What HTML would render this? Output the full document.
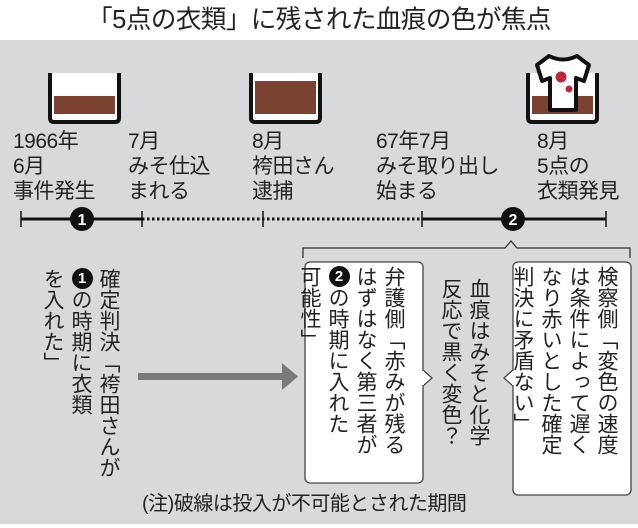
<!DOCTYPE html>
<html><head><meta charset="utf-8"><style>
*{margin:0;padding:0;box-sizing:border-box}
body{width:638px;height:528px;background:#fff;position:relative;overflow:hidden;font-family:"Liberation Sans","Noto Sans CJK JP",sans-serif;color:#222}
.a{position:absolute}
.v{position:absolute;writing-mode:vertical-rl;font-family:"Noto Sans CJK JP",sans-serif;font-size:21px;line-height:28px;white-space:nowrap}
.lbl{position:absolute;font-size:21px;line-height:25px;white-space:nowrap;letter-spacing:-0.5px}
.c{display:inline-block;width:21px;height:21px;border-radius:50%;background:#111;color:#fff;font-family:"Liberation Sans",sans-serif;font-size:15px;line-height:21px;text-align:center;font-weight:bold}
</style></head><body>
<div class="a" style="left:0;top:0;width:638px;height:40px;text-align:center;font-size:25.5px;line-height:40px;letter-spacing:-0.5px">「5点の衣類」に残された血痕の色が焦点</div>
<div class="a" style="left:0;top:40px;width:638px;height:484px;background:#d8d9db"></div>
<svg class="a" style="left:0;top:0" width="638" height="528">
<path d="M50 73 V118 Q50 122 54 122 H115 Q119 122 119 118 V73" fill="#fff" stroke="#111" stroke-width="4"/>
<rect x="54" y="96" width="61" height="18" fill="#7b4232"/>
<path d="M251 73 V118 Q251 122 255 122 H316 Q320 122 320 118 V73" fill="#fff" stroke="#111" stroke-width="4"/>
<rect x="255" y="81" width="61" height="33" fill="#7b4232"/>
<path d="M528 73 V118 Q528 122 532 122 H593 Q597 122 597 118 V73" fill="#fff" stroke="#111" stroke-width="4"/>
<rect x="532" y="96" width="61" height="18" fill="#7b4232"/>
<path d="M549 56 L537 65 L542 81 L550 78 L550 110 H576 V78 L584 81 L589 65 L577 56 Q563 63 549 56 Z" fill="#fff" stroke="#111" stroke-width="4" stroke-linejoin="round"/>
<circle cx="561" cy="77" r="5.5" fill="#c0263a"/><circle cx="569" cy="89" r="3.5" fill="#c0263a"/>
<line x1="21" y1="219" x2="142" y2="219" stroke="#111" stroke-width="3"/>
<line x1="142" y1="219" x2="422" y2="219" stroke="#111" stroke-width="3" stroke-dasharray="2.5 2.5"/>
<line x1="422" y1="219" x2="606" y2="219" stroke="#111" stroke-width="3"/>
<g stroke="#111" stroke-width="1.5"><line x1="21" y1="211" x2="21" y2="227"/><line x1="142" y1="211" x2="142" y2="227"/><line x1="263" y1="211" x2="263" y2="227"/><line x1="422" y1="211" x2="422" y2="227"/><line x1="606" y1="211" x2="606" y2="227"/></g>
<circle cx="82" cy="219" r="12" fill="#111"/><text x="82" y="225" font-size="16" font-weight="bold" fill="#fff" text-anchor="middle" font-family="Liberation Sans">1</text>
<circle cx="513" cy="219" r="12" fill="#111"/><text x="513" y="225" font-size="16" font-weight="bold" fill="#fff" text-anchor="middle" font-family="Liberation Sans">2</text>
<path d="M303 258 V248 H505 L511 241 L517 248 H630 V258" fill="none" stroke="#333" stroke-width="1.3"/>
<rect x="305" y="262" width="118" height="221" rx="5" fill="#fff" stroke="#444" stroke-width="1.3"/>
<rect x="513" y="262" width="118" height="233" rx="5" fill="#fff" stroke="#444" stroke-width="1.3"/>
<path d="M423 370 L432 378 L423 386" fill="#fff" stroke="#444" stroke-width="1.3"/>
<path d="M513 370 L504 378 L513 386" fill="#fff" stroke="#444" stroke-width="1.3"/>
<line x1="423" y1="371" x2="423" y2="385" stroke="#fff" stroke-width="2"/>
<line x1="513" y1="371" x2="513" y2="385" stroke="#fff" stroke-width="2"/>
<rect x="138" y="373" width="146" height="7" fill="#7a7a7a"/>
<path d="M282 363 L298 376.5 L282 390 Z" fill="#7a7a7a"/>
</svg>
<div class="lbl" style="left:13px;top:129px">1966年<br>6月<br>事件発生</div>
<div class="lbl" style="left:128px;top:129px">7月<br>みそ仕込<br>まれる</div>
<div class="lbl" style="left:252px;top:129px">8月<br>袴田さん<br>逮捕</div>
<div class="lbl" style="left:376px;top:129px">67年7月<br>みそ取り出し<br>始まる</div>
<div class="lbl" style="left:537px;top:129px">8月<br>5点の<br>衣類発見</div>
<div class="v" style="right:514px;top:268px;height:220px">確定判決「袴田さんが<br><span class="c" style="writing-mode:horizontal-tb">1</span>の時期に衣類<br>を入れた」</div>
<div class="v" style="right:229px;top:266px;height:215px">弁護側「赤みが残る<br>はずはなく第三者が<br><span class="c" style="writing-mode:horizontal-tb">2</span>の時期に入れた<br>可能性」</div>
<div class="v" style="right:144px;top:278px;height:200px">血痕はみそと化学<br>反応で黒く変色？</div>
<div class="v" style="right:16px;top:266px;height:228px">検察側「変色の速度<br>は条件によって遅く<br>なり赤いとした確定<br>判決に矛盾ない」</div>
<div class="a" style="left:142px;top:492px;font-size:20px;line-height:24px;white-space:nowrap;letter-spacing:-0.5px">(注)破線は投入が不可能とされた期間</div>
</body></html>
